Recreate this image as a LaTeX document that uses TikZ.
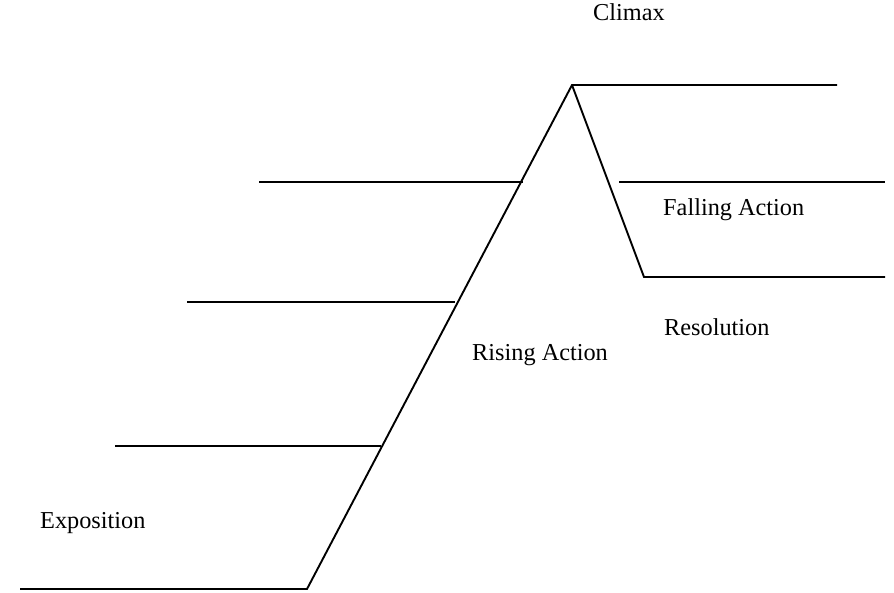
\documentclass[tikz,border=0pt]{standalone}
\usepackage{fontspec}
\setmainfont{Liberation Serif}
\usepackage{tikz}
\usetikzlibrary{positioning}

\begin{document}
\begin{tikzpicture}[
      x=1pt,y=-1pt,
      plotline/.style={
         draw=black,
         line width=1.9pt},
      stagelabel/.style={
         anchor=base west,
         inner sep=0pt,
         font=\fontsize{24.3}{29}\selectfont}
      ]
      \useasboundingbox (0,0) rectangle (894,592);

      % the plot line
      \coordinate (start) at (20,589);
      \coordinate (base) at (307,589);
      \coordinate (apex) at (572,85);
      \coordinate (top) at (837,85);
      \coordinate (low) at (644,277);
      \coordinate (end) at (885,277);

      \draw[plotline] (start) -- (base) -- (apex) -- (top);
      \draw[plotline] (apex) -- (low) -- (end);

      % writing lines
      \foreach \name/\xa/\xb/\y in {% name/left/right/height
        r1/259/523/182,
        r2/187/455/302,
        r3/115/381/446,
        f1/619/885/182}
        {
        \coordinate (\name a) at (\xa,\y);
        \coordinate (\name b) at (\xb,\y);
        \draw[plotline] (\name a) -- (\name b);
        }

      \node[stagelabel] (climax) at (593,20) {Climax};
      \node[stagelabel] (falling) at (663,215) {Falling Action};
      \node[stagelabel] (resolution) at (664,335) {Resolution};
      \node[stagelabel] (rising) at (472,360) {Rising Action};
      \node[stagelabel] (exposition) at (40,528) {Exposition};
    \end{tikzpicture}
\end{document}
